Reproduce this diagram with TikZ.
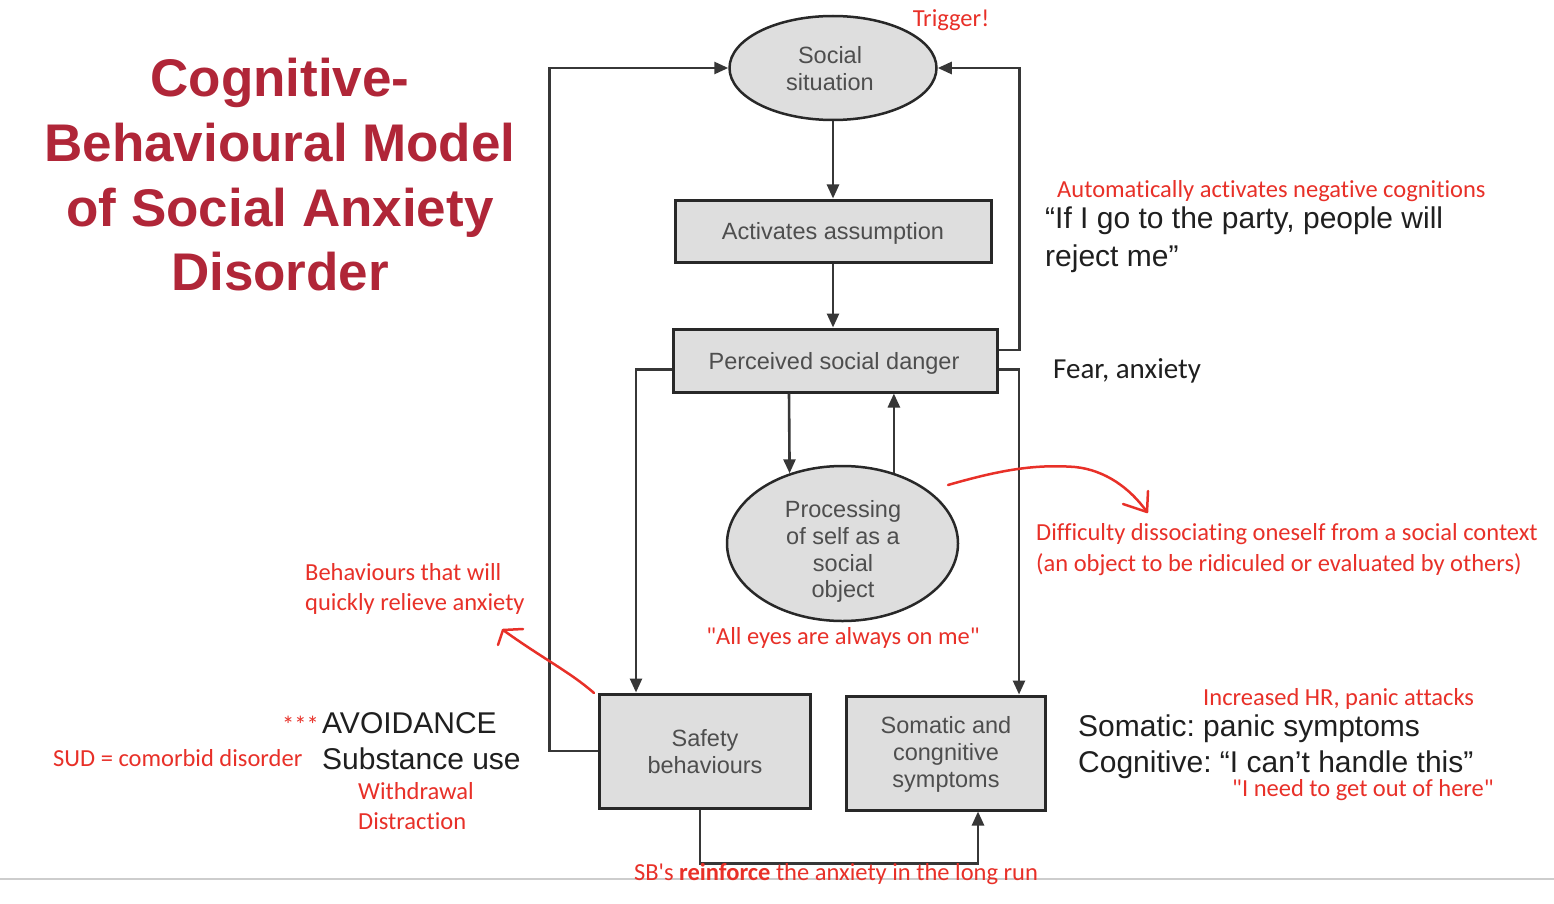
\documentclass[tikz,border=0pt]{standalone}
\usepackage{fontspec}
\setmainfont{Liberation Sans}
\newfontfamily\calibfont{Carlito}[Ligatures={NoCommon}]
\usetikzlibrary{shapes.geometric,arrows.meta}
\definecolor{ttl}{RGB}{176,38,56}
\definecolor{ann}{RGB}{232,48,40}
\definecolor{boxfill}{RGB}{222,222,222}
\definecolor{boxline}{RGB}{40,40,40}
\definecolor{boxtext}{RGB}{78,78,78}
\definecolor{connc}{RGB}{55,55,55}
\definecolor{rule}{RGB}{205,205,205}
\frenchspacing
\begin{document}
\begin{tikzpicture}[x=1pt,y=-1pt,
  box/.style={draw=boxline, line width=3pt, fill=boxfill, inner sep=0pt},
  oval/.style={ellipse, draw=boxline, line width=2.5pt, fill=boxfill, inner sep=0pt},
  conn/.style={draw=connc, line width=2.6pt, -{Triangle[length=14pt,width=12pt]}},
  boxtxt/.style={text=boxtext, font=\fontsize{23.5}{27}\selectfont, inner sep=0pt, anchor=base},
  redtxt/.style={text=ann, font=\calibfont\fontsize{24.5}{30}\selectfont, inner sep=0pt, anchor=base west},
  blk/.style={text=black!88, font=\fontsize{30}{36}\selectfont, inner sep=0pt, anchor=base west},
  ttltxt/.style={text=ttl, font=\bfseries\fontsize{53}{64}\selectfont, inner sep=0pt, anchor=base},
  pen/.style={draw=ann, line width=2.5pt, line cap=round, line join=round},
]
\useasboundingbox (0,0) rectangle (1554,904);
\fill[white] (0,0) rectangle (1554,904);

% title
\node[ttltxt] (ti1) at (280,97) {Cognitive-};
\node[ttltxt] (ti2) at (280,162) {Behavioural Model};
\node[ttltxt] (ti3) at (280,226) {of Social Anxiety};
\node[ttltxt] (ti4) at (280,290) {Disorder};

% shapes
\node[oval, minimum width=207pt, minimum height=104pt] (soc) at (833,68) {};
\node[box, minimum width=316pt, minimum height=62pt] (act) at (833,231) {};
\node[box, minimum width=324pt, minimum height=63pt] (per) at (835,360.5) {};
\node[oval, minimum width=231pt, minimum height=155pt] (proc) at (842.5,543.5) {};
\node[box, minimum width=211pt, minimum height=114pt] (saf) at (704.5,751) {};
\node[box, minimum width=199pt, minimum height=114pt] (som) at (945.5,753) {};

% box texts
\node[boxtxt] (s1) at (830,63.4) {Social};
\node[boxtxt] (s2) at (830,90.4) {situation};
\node[boxtxt] (a1) at (833,239.4) {Activates assumption};
\node[boxtxt] (p1) at (834,369.4) {Perceived social danger};
\node[boxtxt] (o1) at (843,517) {Processing};
\node[boxtxt] (o2) at (843,544) {of self as a};
\node[boxtxt] (o3) at (843,571) {social};
\node[boxtxt] (o4) at (843,597) {object};
\node[boxtxt] (f1) at (705,746) {Safety};
\node[boxtxt] (f2) at (705,773) {behaviours};
\node[boxtxt] (m1) at (946,733) {Somatic and};
\node[boxtxt] (m2) at (946,760) {congnitive};
\node[boxtxt] (m3) at (946,787) {symptoms};

% connectors
\draw[conn] (soc.south) -- (act.north);
\draw[conn] (act.south) -- (act.south |- per.north);
\draw[conn] (saf.west) -- ++(-48,0) |- (soc.west);
\draw[conn] ([yshift=10.5pt]per.east) -- ++(21,0) |- (soc.east);
\draw[conn] ([yshift=-9pt]per.west) -| ([xshift=-68.5pt]saf.north);
\draw[conn] ([yshift=-9pt]per.east) -| ([xshift=73.5pt]som.north);
\draw[conn] ([xshift=-46pt]per.south) -- (proc.127.9);
\draw[conn] (proc.54.7) -- (proc.54.7 |- per.south);
\draw[conn] ([xshift=-4.5pt]saf.south) -- ++(0,54) -| ([xshift=32.5pt]som.south);

% rule line
\draw[draw=rule, line width=2.5pt] (0,879) -- (1554,879);

% red pen annotations
\coordinate (c1s) at (948,485);
\coordinate (c1e) at (1147,512);
\draw[pen] (c1s) .. controls (1000,470) and (1035,464) .. (1075,467) .. controls (1105,470) and (1130,488) .. (c1e);
\draw[pen] (1123,504) -- (c1e) -- (1148,491);
\coordinate (c2s) at (594,693);
\coordinate (c2e) at (503,630);
\draw[pen] (c2s) .. controls (570,672) and (545,660) .. (c2e);
\draw[pen] (523,629) -- (c2e) -- (498,645);

% red texts
\node[redtxt, anchor=base] (r1) at (951,26.7) {Trigger!};
\node[redtxt] (r2) at (1057,197.7) {Automatically activates negative cognitions};
\node[redtxt] (r3) at (1036,540.7) {Difficulty dissociating oneself from a social context};
\node[redtxt] (r4) at (1036,571.7) {(an object to be ridiculed or evaluated by others)};
\node[redtxt] (r5) at (305,580.7) {Behaviours that will};
\node[redtxt] (r6) at (305,610.7) {quickly relieve anxiety};
\node[redtxt, anchor=base] (r7) at (843,644.7) {"All eyes are always on me"};
\node[redtxt, anchor=base east] (r8) at (319,733.7) {***};
\node[redtxt] (r9) at (53,766.7) {SUD = comorbid disorder};
\node[redtxt] (r10) at (358,799.7) {Withdrawal};
\node[redtxt] (r11) at (358,829.7) {Distraction};
\node[redtxt] (r12) at (1203,705.7) {Increased HR, panic attacks};
\node[redtxt] (r13) at (1232,796.7) {"I need to get out of here"};
\node[redtxt, anchor=base] (r14) at (836,880.7) {SB\textquotesingle s \textbf{reinforce} the anxiety in the long run};

% black texts
\node[blk] (b1) at (1045,228.7) {“If I go to the party, people will};
\node[blk] (b2) at (1045,266.7) {reject me”};
\node[blk, font=\calibfont\fontsize{29}{35}\selectfont] (b3) at (1053,378.3) {Fear, anxiety};
\node[blk] (b4) at (322,733.7) {AVOIDANCE};
\node[blk] (b5) at (322,769.7) {Substance use};
\node[blk] (b6) at (1078,736.7) {Somatic: panic symptoms};
\node[blk] (b7) at (1078,772.7) {Cognitive: “I can’t handle this”};
\end{tikzpicture}
\end{document}
